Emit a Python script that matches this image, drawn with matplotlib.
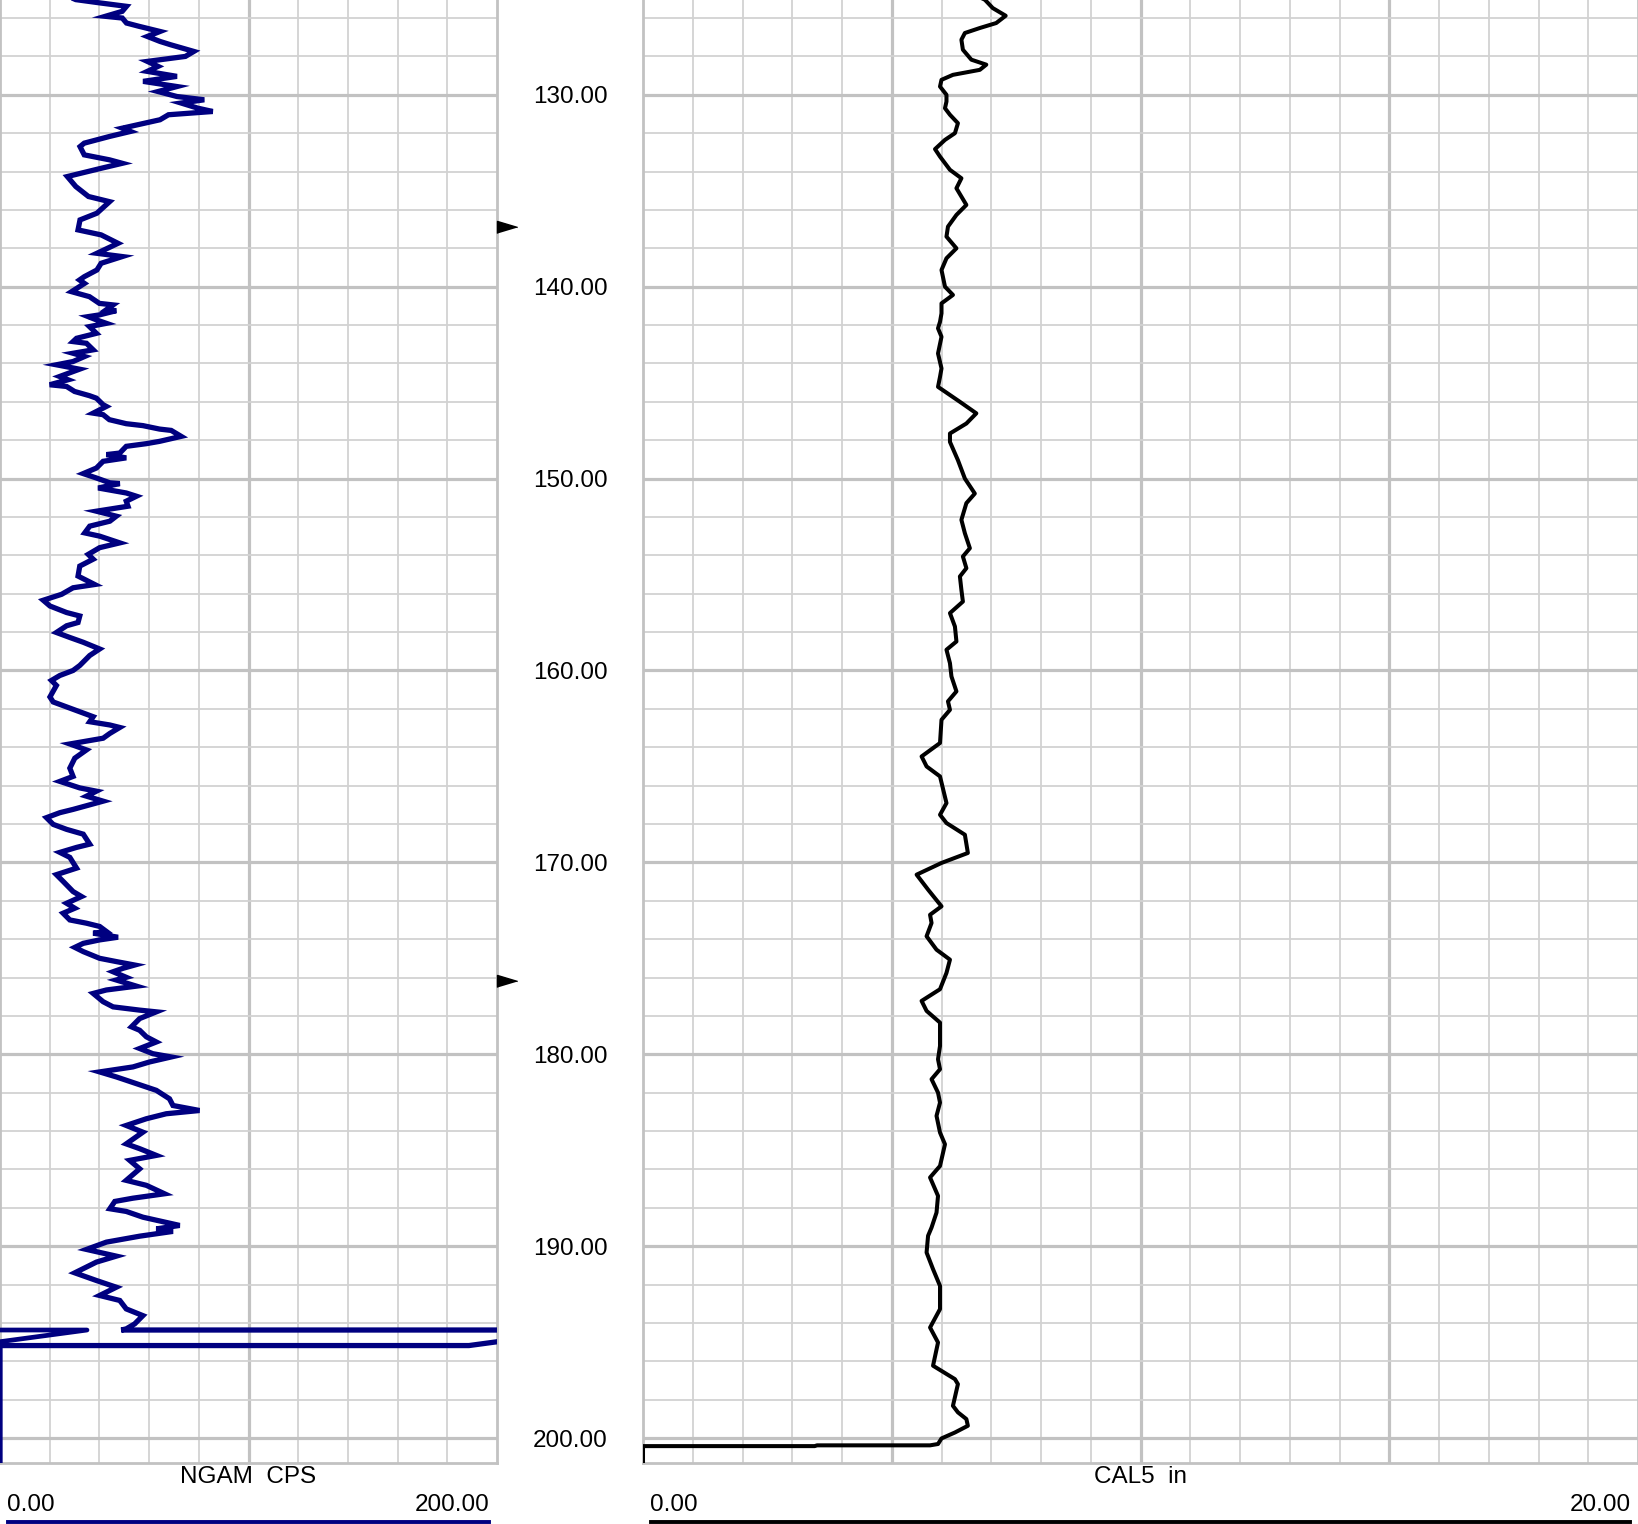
import numpy as np
import matplotlib
matplotlib.use('Agg')
import matplotlib.pyplot as plt
from matplotlib.lines import Line2D

plt.rcParams['font.family'] = ['Liberation Sans', 'DejaVu Sans']

ngam_depth = [124.9, 125.04, 125.22, 125.39, 125.65, 125.91, 126.0, 126.26, 126.43, 126.7, 126.96,
              127.22, 127.39, 127.74, 128.0, 128.26, 128.52, 128.78, 129.04, 129.3, 129.57, 129.83,
              130.09, 130.26, 130.43, 130.7, 130.87, 131.04, 131.3, 131.74, 131.91, 132.17, 132.52,
              132.7, 133.13, 133.39, 133.57, 133.83, 134.26, 134.78, 135.3, 135.57, 136.17, 136.52,
              137.04, 137.3, 137.74, 138.26, 138.43, 138.78, 139.13, 139.48, 139.65, 139.83,
              140.26, 140.52, 140.87, 140.95, 141.2, 141.25, 141.47, 141.56, 141.73, 141.91, 142.08,
              142.43, 142.69, 142.86, 142.95, 143.29, 143.47, 143.64, 143.9, 144.07, 144.3, 144.68,
              144.85, 145.11, 145.2, 145.46, 145.68, 145.81, 146.15, 146.24, 146.59, 146.67, 146.93,
              147.14, 147.24, 147.42, 147.49, 147.8, 148.06, 148.18, 148.32, 148.67, 148.75, 148.92,
              149.1, 149.45, 149.74, 149.97, 150.22, 150.26, 150.49, 150.75, 150.92, 151.18, 151.44,
              151.7, 151.96, 152.22, 152.48, 152.83, 153.0, 153.35, 153.6, 153.95, 154.2, 154.56,
              155.08, 155.52, 155.69, 156.03, 156.34, 156.64, 156.98, 157.16, 157.5, 157.67, 158.02,
              158.28, 158.53, 158.88, 159.22, 159.74, 160.0, 160.26, 160.52, 160.78, 161.38, 161.64,
              161.9, 162.16, 162.41, 162.67, 162.84, 162.97, 163.28, 163.53, 163.83, 164.14, 164.57,
              165.09, 165.52, 165.78, 166.12, 166.29, 166.55, 166.81, 167.24, 167.41, 167.67, 168.02,
              168.28, 168.53, 169.05, 169.22, 169.48, 169.74, 170.3, 170.64, 170.99, 171.52, 171.78,
              172.13, 172.39, 172.65, 173.0, 173.17, 173.34, 173.6, 173.69, 173.9, 174.04, 174.22,
              174.43, 174.65, 175.0, 175.17, 175.35, 175.52, 175.7, 175.99, 176.13, 176.45, 176.65,
              176.83, 177.26, 177.53, 177.7, 177.79, 178.14, 178.57, 178.75, 179.09, 179.36, 179.7,
              179.97, 180.14, 180.4, 180.66, 180.92, 181.18, 181.53, 181.88, 182.32, 182.67, 182.93,
              183.1, 183.36, 183.71, 184.06, 184.67, 184.92, 185.27, 185.53, 185.97, 186.57, 186.83,
              187.27, 187.5, 187.67, 188.05, 188.19, 188.49, 188.92, 189.1, 189.23, 189.48, 189.79,
              190.17, 190.52, 190.83, 191.39, 191.79, 192.14, 192.57, 192.83, 193.27, 193.62, 194.05,
              194.31, 194.37, 194.37, 194.98, 195.18, 195.18, 201.5]
ngam_cps = [28.0, 30.5, 40.7, 50.9, 49.2, 42.4, 49.2, 50.9, 55.9, 64.4, 59.3,
            64.4, 68.6, 78.0, 74.6, 59.3, 63.6, 59.3, 71.2, 57.6, 71.2, 63.6,
            71.2, 82.2, 72.9, 79.7, 85.6, 67.8, 64.4, 49.2, 52.5, 44.1, 33.9,
            32.2, 33.9, 44.1, 49.2, 40.7, 27.1, 30.5, 35.6, 44.1, 39.0, 32.2,
            31.4, 40.7, 47.5, 39.0, 49.2, 40.7, 39.0, 33.9, 32.0, 34.0,
            28.8, 36.0, 40.0, 45.5, 42.8, 46.8, 40.0, 35.5, 38.8, 42.8, 36.0,
            38.8, 30.8, 29.4, 34.8, 37.5, 29.4, 34.0, 29.4, 22.7, 32.0, 24.0,
            27.4, 20.0, 26.8, 30.0, 36.0, 38.8, 41.5, 42.8, 37.5, 41.5, 44.0,
            50.8, 57.5, 64.2, 68.9, 72.9, 64.2, 58.9, 50.8, 48.2, 42.8, 50.8,
            41.5, 38.8, 33.5, 38.8, 44.2, 48.2, 39.5, 50.8, 54.9, 50.8, 51.5,
            38.8, 46.8, 44.2, 36.1, 34.1, 40.1, 48.2, 40.1, 35.5, 37.5, 32.1,
            31.4, 38.1, 29.4, 24.8, 17.4, 20.1, 26.8, 32.1, 31.4, 26.8, 22.7,
            28.1, 33.5, 40.1, 36.1, 32.1, 29.4, 24.1, 20.7, 22.7, 20.1, 21.4,
            26.8, 32.1, 37.5, 36.1, 44.2, 48.2, 44.2, 41.5, 28.1, 34.8, 30.1,
            28.1, 29.4, 24.1, 32.1, 38.8, 34.8, 41.5, 29.4, 24.1, 18.7, 21.4,
            26.8, 33.5, 36.1, 30.8, 24.1, 28.1, 30.8, 22.7, 25.4, 29.4, 32.8,
            26.8, 30.1, 25.4, 28.1, 34.8, 40.1, 42.8, 37.5, 47.5, 40.1, 33.5,
            30.1, 33.5, 40.1, 46.8, 54.2, 49.5, 45.5, 50.8, 46.8, 54.9, 42.8,
            37.5, 41.5, 45.5, 56.2, 62.9, 56.2, 52.9, 56.2, 58.9, 62.9, 56.2,
            61.5, 68.9, 60.2, 53.5, 40.1, 46.8, 54.9, 62.9, 68.2, 69.6, 80.3,
            66.9, 58.9, 50.8, 57.5, 50.8, 56.2, 62.9, 52.2, 56.2, 50.8, 58.9,
            66.2, 53.5, 46.2, 44.2, 50.8, 57.5, 72.3, 62.9, 69.6, 56.2, 42.8,
            34.8, 46.8, 38.8, 30.1, 38.8, 46.8, 40.1, 48.2, 50.8, 57.5, 54.2,
            50.8, 48.8, 235.0, 200.0, 188.7, 0.0, 0.0]

cal_depth = [124.9, 125.04, 125.48, 125.88, 126.26, 126.52, 126.78, 127.13, 127.65, 128.17, 128.43,
             128.7, 128.96, 129.22, 129.57, 130.0, 130.35, 130.7, 131.04, 131.48, 132.0, 132.35,
             132.83, 133.22, 133.91, 134.35, 134.87, 135.74, 136.26, 136.87, 137.39, 138.0, 138.52,
             139.13, 140.0, 140.43, 140.87, 141.39, 141.83, 142.17, 142.61, 143.48, 144.26, 144.7,
             145.22, 146.0, 146.6, 147.13, 147.65, 148.09, 149.04, 150.0, 150.78, 151.28, 152.15,
             152.85, 153.63, 154.06, 154.67, 155.1, 155.8, 156.41, 157.01, 157.71, 158.49, 158.92,
             159.62, 160.31, 161.09, 161.61, 162.05, 162.57, 163.78, 164.48, 165.0, 165.52, 166.91,
             167.52, 167.95, 168.56, 169.51, 170.03, 170.64, 171.42, 172.29, 172.73, 173.16, 173.85,
             174.55, 175.07, 175.76, 176.61, 177.22, 177.74, 178.35, 179.57, 180.26, 180.78, 181.3,
             182.0, 182.52, 183.21, 184.08, 184.69, 185.82, 186.42, 187.38, 188.25, 189.03, 189.46,
             190.33, 191.2, 192.07, 193.28, 194.24, 195.02, 196.23, 196.93, 197.19, 198.32, 198.66,
             199.01, 199.36, 199.71, 200.02, 200.31, 200.38, 200.38, 200.42, 200.42, 201.5]
cal_in = [6.75, 6.87, 7.03, 7.29, 7.1, 6.77, 6.47, 6.4, 6.43, 6.6, 6.9,
          6.77, 6.23, 6.0, 5.97, 6.1, 6.1, 6.07, 6.17, 6.33, 6.27, 6.07,
          5.87, 5.97, 6.17, 6.4, 6.3, 6.5, 6.3, 6.13, 6.1, 6.3, 6.1,
          6.0, 6.07, 6.23, 6.0, 6.0, 5.97, 5.93, 6.0, 5.93, 6.0, 5.97,
          5.93, 6.37, 6.7, 6.5, 6.17, 6.17, 6.33, 6.47, 6.67, 6.5, 6.4,
          6.47, 6.57, 6.43, 6.5, 6.37, 6.4, 6.43, 6.17, 6.27, 6.3, 6.1,
          6.17, 6.2, 6.3, 6.13, 6.17, 6.0, 5.97, 5.6, 5.7, 5.97, 6.1,
          5.97, 6.1, 6.47, 6.53, 6.0, 5.5, 5.73, 6.0, 5.77, 5.8, 5.7,
          5.9, 6.17, 6.1, 5.97, 5.6, 5.7, 5.97, 5.97, 5.93, 5.97, 5.8,
          5.93, 5.97, 5.9, 5.97, 6.07, 5.97, 5.77, 5.93, 5.9, 5.8, 5.73,
          5.7, 5.83, 5.97, 5.97, 5.77, 5.93, 5.83, 6.27, 6.33, 6.23, 6.33,
          6.5, 6.53, 6.27, 6.0, 5.93, 5.77, 3.5, 3.45, 0.0, 0.0]

depth_labels = [130, 140, 150, 160, 170, 180, 190, 200]
marker_depths = [136.9, 176.2]
ngam_scale = (0, 200)
cal_scale = (0, 20)
ngam_title = 'NGAM  CPS'
cal_title = 'CAL5  in'

top_depth, bot_depth = 125.06, 201.3

W, H = 1638, 1524
fig = plt.figure(figsize=(W / 100, H / 100), dpi=100)
FS = 17.5


def box(x0, y0, x1, y1):
    # pixel box (from top-left) -> figure fraction rect
    return [x0 / W, 1 - y1 / H, (x1 - x0) / W, (y1 - y0) / H]


def fx(x):
    return x / W


def fy(y):
    return 1 - y / H


GRID_MIN = '#d2d2d2'
GRID_MAJ = '#c2c2c2'


def setup_track(ax, xlim, xmaj, xmin):
    ax.set_xlim(*xlim)
    ax.set_ylim(bot_depth, top_depth)
    ax.set_yticks(np.arange(130, 201, 10))
    ax.set_yticks(np.arange(126, 201, 2), minor=True)
    ax.set_xticks(xmaj)
    ax.set_xticks(xmin, minor=True)
    ax.grid(which='minor', color=GRID_MIN, lw=1.3, zorder=0)
    ax.grid(which='major', color=GRID_MAJ, lw=2.3, zorder=0)
    ax.tick_params(which='both', length=0, labelbottom=False, labelleft=False)
    ax.set_axisbelow(True)
    for s in ax.spines.values():
        s.set_color(GRID_MAJ)
        s.set_linewidth(2.0)
    ax.spines['top'].set_visible(False)


ax_gr = fig.add_axes(box(0, 0, 497, 1463))
ax_dep = fig.add_axes(box(497, 0, 643, 1463))
ax_cal = fig.add_axes(box(643, 0, 1638, 1463))

setup_track(ax_gr, ngam_scale, [100], np.arange(20, 200, 20))
setup_track(ax_cal, cal_scale, [5, 10, 15], np.arange(1, 20, 1))

# gamma ray with wrap-around past full scale
gr = np.array(ngam_cps)
gd = np.array(ngam_depth)
ax_gr.plot(gr, gd, color='#000080', lw=3.8, solid_joinstyle='miter', zorder=3)
nxt = np.r_[gr[1:], 0]
wrap_mask = (gr >= 200) | (nxt > 200)
gr_wrap = np.where(wrap_mask, gr - 200, np.nan)
ax_gr.plot(gr_wrap, gd, color='#000080', lw=3.4, zorder=3)

# caliper
ax_cal.plot(cal_in, cal_depth, color='black', lw=2.9, solid_joinstyle='round', zorder=3)

# depth column
ax_dep.set_xlim(0, 1)
ax_dep.set_ylim(bot_depth, top_depth)
ax_dep.axis('off')
for d in depth_labels:
    ax_dep.text(0.5, d, '%.2f' % d, ha='center', va='center_baseline', fontsize=FS)
tri = [(0, -0.3), (0, 0.3), (1, 0)]
ax_dep.plot([0] * len(marker_depths), marker_depths, ls='', marker=tri, ms=29,
            color='black', clip_on=False)

# headers
for (x0, x1, scale, title, col) in [(0, 497, ngam_scale, ngam_title, '#000080'),
                                    (643, 1638, cal_scale, cal_title, 'black')]:
    fig.text(fx((x0 + x1) / 2), fy(1477), title, ha='center', va='center', fontsize=FS)
    fig.text(fx(x0 + 7), fy(1505), '%.2f' % scale[0], ha='left', va='center', fontsize=FS)
    fig.text(fx(x1 - 7), fy(1505), '%.2f' % scale[1], ha='right', va='center', fontsize=FS)
    fig.add_artist(Line2D([fx(x0 + 8), fx(x1 - 8)], [fy(1521.5), fy(1521.5)],
                          color=col, lw=2.8, transform=fig.transFigure))

fig.savefig('out.png', dpi=100)
